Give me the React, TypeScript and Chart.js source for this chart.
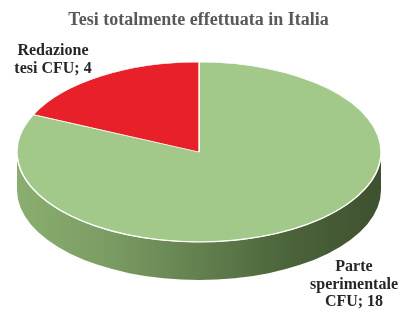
import React, { useEffect, useRef } from "react";
import { Chart, registerables } from "chart.js";

Chart.register(...registerables);

// ---- data ----
const chartTitle = "Tesi totalmente effettuata in Italia";
const categories = ["Parte sperimentale CFU", "Redazione tesi CFU"];
const values = [18, 4];
const topColors = ["#a3c98a", "#e8202a"];
const sideColors = [
  ["#8aae6f", "#7b9c63", "#63804f", "#4b6339", "#3e5130"],
  ["#c01a20", "#a8161b", "#8f1318", "#7a1014", "#6a0d11"],
];

// ---- layout constants ----
const W = 412;
const H = 314;
const CX = 199;
const CY = 152;
const RX = 182;
const RY = 90;
const DEPTH = 38;
const LABEL_FONT = "bold 16px 'Liberation Serif', 'Times New Roman', serif";
const LABEL_COLOR = "#262626";
const LABEL_LINE_H = 17.5;
const LABEL_MAX_W = 92;
const labelAnchors = [
  { x: 354, y: 267 },
  { x: 53, y: 51 },
];

function wrap(ctx: CanvasRenderingContext2D, text: string, maxW: number): string[] {
  const words = text.split(" ");
  const lines: string[] = [];
  let cur = "";
  for (const w of words) {
    const test = cur ? cur + " " + w : w;
    if (cur && ctx.measureText(test).width > maxW) {
      lines.push(cur);
      cur = w;
    } else {
      cur = test;
    }
  }
  if (cur) lines.push(cur);
  return lines;
}

const pie3d = {
  id: "pie3d",
  beforeDatasetsDraw(chart: any) {
    const ctx: CanvasRenderingContext2D = chart.ctx;
    const meta = chart.getDatasetMeta(0);
    const arcs = meta.data;
    const TAU = Math.PI * 2;
    arcs.forEach((arc: any, i: number) => {
      const { startAngle, endAngle } = arc.getProps(["startAngle", "endAngle"], true);
      for (let k = -1; k <= 2; k++) {
        const lo = Math.max(startAngle, k * TAU);
        const hi = Math.min(endAngle, k * TAU + Math.PI);
        if (hi - lo <= 0.0001) continue;
        const a0 = lo - k * TAU;
        const a1 = hi - k * TAU;
        ctx.save();
        ctx.beginPath();
        ctx.ellipse(CX, CY, RX, RY, 0, a0, a1);
        ctx.ellipse(CX, CY + DEPTH, RX, RY, 0, a1, a0, true);
        ctx.closePath();
        const g = ctx.createLinearGradient(CX - RX, 0, CX + RX, 0);
        const stops = sideColors[i % sideColors.length];
        stops.forEach((c, j) => g.addColorStop(j / (stops.length - 1), c));
        ctx.fillStyle = g;
        ctx.fill();
        ctx.restore();
      }
    });
    const { x, y, outerRadius } = arcs[0].getProps(["x", "y", "outerRadius"], true);
    ctx.save();
    ctx.translate(CX, CY);
    ctx.scale(RX / outerRadius, RY / outerRadius);
    ctx.translate(-x, -y);
  },
  afterDatasetsDraw(chart: any) {
    const ctx: CanvasRenderingContext2D = chart.ctx;
    ctx.restore();
    // front highlight of the top face
    ctx.save();
    ctx.beginPath();
    ctx.ellipse(CX, CY, RX, RY, 0, 0.04, Math.PI - 0.04);
    ctx.strokeStyle = "rgba(255,255,255,0.9)";
    ctx.lineWidth = 1.2;
    ctx.stroke();
    ctx.restore();
    // labels
    ctx.save();
    ctx.font = LABEL_FONT;
    ctx.fillStyle = LABEL_COLOR;
    ctx.textAlign = "center";
    ctx.textBaseline = "middle";
    categories.forEach((cat, i) => {
      const lines = wrap(ctx, `${cat}; ${values[i]}`, LABEL_MAX_W);
      const a = labelAnchors[i];
      lines.forEach((ln, j) => ctx.fillText(ln, a.x, a.y + j * LABEL_LINE_H));
    });
    ctx.restore();
  },
};

export default function App() {
  const ref = useRef<HTMLCanvasElement | null>(null);
  useEffect(() => {
    if (!ref.current) return;
    const chart = new Chart(ref.current, {
      type: "pie",
      data: {
        labels: categories,
        datasets: [
          {
            data: values,
            backgroundColor: topColors,
            borderColor: "#ffffff",
            borderWidth: 1,
            clip: false as any,
          },
        ],
      },
      options: {
        animation: false,
        responsive: false,
        devicePixelRatio: 1,
        events: [],
        rotation: 0,
        layout: { padding: { left: 0, right: 15, top: 0, bottom: 0 } },
        plugins: {
          legend: { display: false },
          tooltip: { enabled: false },
          title: {
            display: true,
            text: chartTitle,
            color: "#595959",
            font: { family: "'Liberation Serif', 'Times New Roman', serif", size: 18, weight: "bold" },
            padding: { top: 10, bottom: 10 },
          },
        },
      },
      plugins: [pie3d],
    });
    return () => chart.destroy();
  }, []);
  return (
    <div style={{ position: "absolute", left: 0, top: 0, width: W, height: H, background: "#fff" }}>
      <canvas ref={ref} width={W} height={H} style={{ display: "block" }} />
    </div>
  );
}
